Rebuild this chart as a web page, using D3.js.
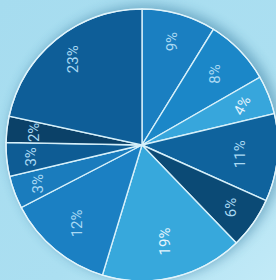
<!DOCTYPE html>
<html>
<head>
<meta charset="utf-8">
<script src="https://cdn.jsdelivr.net/npm/d3@7"></script>
<style>
  html, body { margin: 0; padding: 0; background: #ade0f1; }
  svg { display: block; }
</style>
</head>
<body>
<div id="chart"></div>
<script>
// slice data, clockwise from 12 o'clock
var labels = ["9%", "8%", "4%", "11%", "6%", "19%", "12%", "3%", "3%", "2%", "23%"];
// share of the circle each slice takes as drawn (in %)
var shares = [8.8, 7.9, 4.6, 10.4, 6.1, 16.9, 12.7, 3.9, 4.0, 3.1, 21.6];
var colors = ["#1a7fc1", "#1b87c8", "#37a6dc", "#0f639d", "#0b4a75", "#37a8dc",
              "#1b80c3", "#1a7cbd", "#0e5c94", "#0b4168", "#0e5e98"];
// label distance from centre, as a fraction of the radius
var labelPos = [0.79, 0.75, 0.79, 0.72, 0.80, 0.73, 0.75, 0.82, 0.82, 0.80, 0.81];
var labelRot = [-90, -90, -62, -90, -90, -90, -90, -90, -90, -90, -90];

var width = 276, height = 280;
var cx = 142, cy = 145, r = 136;

var data = labels.map(function(l, i) {
  return {label: l, value: shares[i], color: colors[i], pos: labelPos[i], rot: labelRot[i]};
});

var svg = d3.select("#chart").append("svg")
    .attr("width", width)
    .attr("height", height);

var defs = svg.append("defs");

// background gradient
var bg = defs.append("linearGradient").attr("id", "bg")
    .attr("x1", "0").attr("y1", "0").attr("x2", "1").attr("y2", "1");
bg.append("stop").attr("offset", "0%").attr("stop-color", "#a6dcef");
bg.append("stop").attr("offset", "60%").attr("stop-color", "#abdff1");
bg.append("stop").attr("offset", "100%").attr("stop-color", "#c2eaf7");

var blur = defs.append("filter").attr("id", "shadow")
    .attr("x", "-30%").attr("y", "-30%").attr("width", "160%").attr("height", "160%");
blur.append("feGaussianBlur").attr("stdDeviation", 6);

svg.append("rect").attr("width", width).attr("height", height).attr("fill", "url(#bg)");

// soft shadow behind the pie
svg.append("circle")
    .attr("cx", cx + 4).attr("cy", cy - 2).attr("r", r + 2)
    .attr("fill", "#2b6f95")
    .attr("opacity", 0.45)
    .attr("filter", "url(#shadow)");

var g = svg.append("g").attr("transform", "translate(" + cx + "," + cy + ")");

var pie = d3.pie().sort(null).value(function(d) { return d.value; });
var arc = d3.arc().innerRadius(0).outerRadius(r);
var arcs = pie(data);

g.selectAll("path.slice")
  .data(arcs)
  .enter().append("path")
    .attr("class", "slice")
    .attr("d", arc)
    .attr("fill", function(d) { return d.data.color; })
    .attr("stroke", "#d6f0fa")
    .attr("stroke-width", 1.4);

// white rim
g.append("circle").attr("r", r).attr("fill", "none")
    .attr("stroke", "#e2f4fb").attr("stroke-width", 1.2);

// labels
g.selectAll("text.lbl")
  .data(arcs)
  .enter().append("text")
    .attr("class", "lbl")
    .attr("transform", function(d) {
      var a = (d.startAngle + d.endAngle) / 2;
      var rr = r * d.data.pos;
      var x = Math.sin(a) * rr, y = -Math.cos(a) * rr;
      return "translate(" + x + "," + y + ") rotate(" + d.data.rot + ")";
    })
    .attr("text-anchor", "middle")
    .attr("dy", "0.35em")
    .attr("font-family", "Roboto, 'Liberation Sans', sans-serif")
    .attr("font-size", 15)
    .attr("fill", function(d) { return d.data.label === "19%" || d.data.label === "4%" ? "#e4f4fc" : "#a9d9f3"; })
    .text(function(d) { return d.data.label; });
</script>
</body>
</html>
